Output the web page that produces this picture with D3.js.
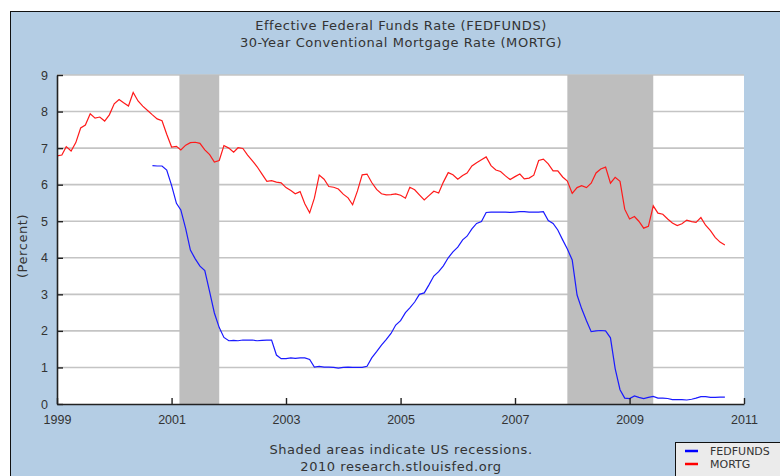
<!DOCTYPE html>
<html lang="en">
<head>
  <meta charset="UTF-8">
  <title>FEDFUNDS and MORTG</title>
  <style>
    * { margin: 0; padding: 0; box-sizing: border-box; }
    body { background: #ffffff; width: 780px; height: 476px; overflow: hidden; }
    svg { display: block; font-family: 'DejaVu Sans', Verdana, sans-serif; }
    .tick text { fill: #333; font-size: 12.5px; }
    .txt { fill: #333; }
    .wide { font-size: 13px; letter-spacing: 0.55px; }
  </style>
  <script src="https://cdn.jsdelivr.net/npm/d3@7/dist/d3.min.js"></script>
</head>
<body>
  <svg id="chart" width="780" height="476"></svg>

  <script>
    // monthly values, MORTG from Jan 1999, FEDFUNDS from Sep 2000
    const mortgStart = '1999-01';
    const mortgValues = [
      6.79, 6.81, 7.04, 6.92, 7.15, 7.55, 7.63, 7.94, 7.82, 7.85, 7.74, 7.91,
      8.21, 8.33, 8.24, 8.15, 8.52, 8.29, 8.15, 8.03, 7.91, 7.80, 7.75, 7.38,
      7.03, 7.05, 6.95, 7.08, 7.15, 7.16, 7.13, 6.95, 6.82, 6.62, 6.66, 7.07,
      7.00, 6.89, 7.01, 6.99, 6.81, 6.65, 6.49, 6.29, 6.09, 6.11, 6.07, 6.05,
      5.92, 5.84, 5.75, 5.81, 5.48, 5.23, 5.63, 6.26, 6.15, 5.95, 5.93, 5.88,
      5.74, 5.64, 5.45, 5.83, 6.27, 6.29, 6.06, 5.87, 5.75, 5.72, 5.73, 5.75,
      5.71, 5.63, 5.93, 5.86, 5.72, 5.58, 5.70, 5.82, 5.77, 6.07, 6.33, 6.27,
      6.15, 6.25, 6.32, 6.51, 6.60, 6.68, 6.76, 6.52, 6.40, 6.36, 6.24, 6.14,
      6.22, 6.29, 6.16, 6.18, 6.26, 6.66, 6.70, 6.57, 6.38, 6.38, 6.21, 6.10,
      5.76, 5.92, 5.97, 5.92, 6.04, 6.32, 6.43, 6.48, 6.04, 6.20, 6.09, 5.33,
      5.06, 5.13, 5.00, 4.81, 4.86, 5.42, 5.22, 5.19, 5.06, 4.95, 4.88, 4.93,
      5.03, 4.99, 4.97, 5.10, 4.89, 4.74, 4.56, 4.43, 4.35
    ];

    const fedStart = '2000-09';
    const fedValues = [
      6.52, 6.51, 6.51, 6.40,
      5.98, 5.49, 5.31, 4.80, 4.21, 3.97, 3.77, 3.65, 3.07, 2.49, 2.09, 1.82,
      1.73, 1.74, 1.73, 1.75, 1.75, 1.75, 1.73, 1.74, 1.75, 1.75, 1.34, 1.24,
      1.24, 1.26, 1.25, 1.26, 1.26, 1.22, 1.01, 1.03, 1.01, 1.01, 1.00, 0.98,
      1.00, 1.01, 1.00, 1.00, 1.00, 1.03, 1.26, 1.43, 1.61, 1.76, 1.93, 2.16,
      2.28, 2.50, 2.63, 2.79, 3.00, 3.04, 3.26, 3.50, 3.62, 3.78, 4.00, 4.16,
      4.29, 4.49, 4.59, 4.79, 4.94, 4.99, 5.24, 5.25, 5.25, 5.25, 5.25, 5.24,
      5.25, 5.26, 5.26, 5.25, 5.25, 5.25, 5.26, 5.02, 4.94, 4.76, 4.49, 4.24,
      3.94, 2.98, 2.61, 2.28, 1.98, 2.00, 2.01, 2.00, 1.81, 0.97, 0.39, 0.16,
      0.15, 0.22, 0.18, 0.15, 0.18, 0.21, 0.16, 0.16, 0.15, 0.12, 0.12, 0.12,
      0.11, 0.13, 0.16, 0.20, 0.20, 0.18, 0.18, 0.19, 0.19
    ];

    const recessions = [
      ['2001-02-20', '2001-11-01'],
      ['2007-12-01', '2009-06-01']
    ];

    const yTicks = [0, 1, 2, 3, 4, 5, 6, 7, 8, 9];
    const xTickYears = ['1999', '2001', '2003', '2005', '2007', '2009', '2011'];

    const titleLines = ['Effective Federal Funds Rate (FEDFUNDS)', '30-Year Conventional Mortgage Rate (MORTG)'];
    const footLines = ['Shaded areas indicate US recessions.', '2010 research.stlouisfed.org'];

    const parseMonth = d3.timeParse('%Y-%m');
    const parseDay = d3.timeParse('%Y-%m-%d');
    const parseYear = d3.timeParse('%Y');

    function toSeries(start, values) {
      const t0 = parseMonth(start);
      return values.map((v, i) => ({ date: d3.timeMonth.offset(t0, i), value: v }));
    }

    const mortg = toSeries(mortgStart, mortgValues);
    const fed = toSeries(fedStart, fedValues);

    const svg = d3.select('#chart');
    const plot = { left: 57, right: 744, top: 75, bottom: 404 };

    // frame
    svg.append('rect').attr('x', 10.5).attr('y', 11.5).attr('width', 800).attr('height', 500)
      .attr('fill', '#b4cde4').attr('stroke', '#111').attr('stroke-width', 1);

    const x = d3.scaleTime()
      .domain([parseYear('1999'), parseYear('2011')])
      .range([plot.left, plot.right]);
    const y = d3.scaleLinear().domain([0, 9]).range([plot.bottom, plot.top]);

    svg.append('rect').attr('x', plot.left).attr('y', plot.top)
      .attr('width', plot.right - plot.left).attr('height', plot.bottom - plot.top).attr('fill', '#fff');

    // gridlines
    svg.append('g').selectAll('line').data(yTicks.filter(d => d > 0)).join('line')
      .attr('x1', plot.left).attr('x2', plot.right)
      .attr('y1', d => y(d)).attr('y2', d => y(d))
      .attr('stroke', '#c4c4c4').attr('stroke-width', 1.6);

    // recession bands
    svg.append('g').selectAll('rect').data(recessions).join('rect')
      .attr('x', d => x(parseDay(d[0])))
      .attr('width', d => x(parseDay(d[1])) - x(parseDay(d[0])))
      .attr('y', plot.top).attr('height', plot.bottom - plot.top)
      .attr('fill', '#bebebe');

    const line = d3.line().x(d => x(d.date)).y(d => y(d.value));

    svg.append('path').datum(mortg).attr('d', line)
      .attr('fill', 'none').attr('stroke', '#ff1a1a').attr('stroke-width', 1.2);
    svg.append('path').datum(fed).attr('d', line)
      .attr('fill', 'none').attr('stroke', '#1a1aff').attr('stroke-width', 1.2);

    // axes
    const yAxis = d3.axisLeft(y).tickValues(yTicks).tickFormat(d3.format('d'))
      .tickSizeInner(-6).tickSizeOuter(0).tickPadding(9);
    const gy = svg.append('g').attr('transform', `translate(${plot.left},0)`).call(yAxis);

    const xAxis = d3.axisBottom(x).tickValues(xTickYears.map(parseYear))
      .tickFormat(d3.timeFormat('%Y')).tickSizeInner(-6).tickSizeOuter(0).tickPadding(11);
    const gx = svg.append('g').attr('transform', `translate(0,${plot.bottom})`).call(xAxis);

    [gx, gy].forEach(g => {
      g.select('.domain').attr('stroke', '#222').attr('stroke-width', 1.6);
      g.selectAll('.tick line').attr('stroke', '#222').attr('stroke-width', 1.4);
    });

    // titles
    svg.append('g').selectAll('text').data(titleLines).join('text')
      .attr('class', 'txt wide').attr('x', 401).attr('y', (d, i) => 30 + i * 17)
      .attr('text-anchor', 'middle').text(d => d);

    svg.append('g').selectAll('text').data(footLines).join('text')
      .attr('class', 'txt wide').attr('x', 401).attr('y', (d, i) => 454 + i * 17)
      .attr('text-anchor', 'middle').text(d => d);

    svg.append('text').attr('class', 'txt wide')
      .attr('transform', 'translate(27,246) rotate(-90)')
      .attr('text-anchor', 'middle').text('(Percent)');

    // legend
    const legendItems = [
      { name: 'FEDFUNDS', color: '#0000ff' },
      { name: 'MORTG', color: '#ff0000' }
    ];
    const lg = svg.append('g').attr('transform', 'translate(675,442)');
    lg.append('rect').attr('x', 0.5).attr('y', 0.5).attr('width', 120).attr('height', 60)
      .attr('fill', '#ebebeb').attr('stroke', '#111');
    const li = lg.selectAll('g.item').data(legendItems).join('g')
      .attr('class', 'item').attr('transform', (d, i) => `translate(0,${9 + i * 13})`);
    li.append('line').attr('x1', 10).attr('x2', 23)
      .attr('stroke', d => d.color).attr('stroke-width', 2.5);
    li.append('text').attr('class', 'txt').attr('x', 35).attr('y', 4)
      .attr('font-size', 11).text(d => d.name);
  </script>
</body>
</html>
